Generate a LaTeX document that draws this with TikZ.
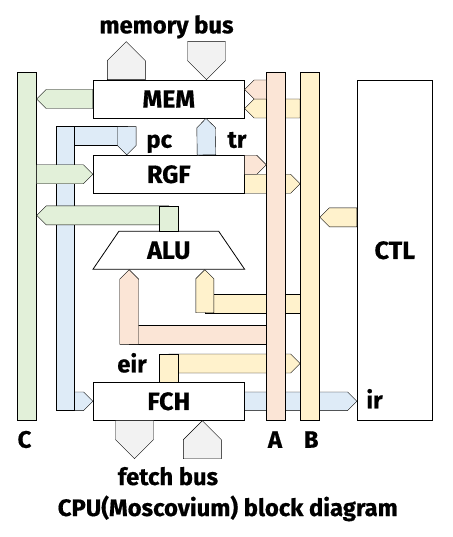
\documentclass[tikz,border=0pt]{standalone}
\usepackage{fontspec}
\setmainfont{Fira Sans}[BoldFeatures={FakeBold=0.6}]
\usetikzlibrary{shapes.geometric, calc}

\definecolor{cgreen}{HTML}{E2F0D9}
\definecolor{cpink}{HTML}{FBE5D6}
\definecolor{cyellow}{HTML}{FFF2CC}
\definecolor{cblue}{HTML}{DEEBF7}
\definecolor{cgray}{HTML}{F2F2F2}

\pgfdeclarelayer{back}
\pgfsetlayers{back,main}

% fat bus arrow: [half width]{style}{start}{tip}
\newcommand{\fatarrow}[4][9.5pt]{%
  \coordinate (fa s) at #3;
  \coordinate (fa t) at #4;
  \coordinate (fa h) at ($(fa t)!#1!(fa s)$);
  \draw[#2] ($(fa s)!#1!90:(fa t)$) -- ($(fa h)!#1!-90:(fa s)$) -- (fa t)
    -- ($(fa h)!#1!90:(fa s)$) -- ($(fa s)!#1!-90:(fa t)$) -- cycle;
}

\begin{document}
\begin{tikzpicture}[x=1pt, y=-1pt, line width=0.8pt, font=\bfseries\fontsize{23.8}{26}\selectfont]
    \tikzstyle{block} = [rectangle, draw, fill=white, minimum width=151pt, minimum height=38pt, inner sep=0pt, font=\bfseries\fontsize{25}{27}\selectfont]
    \tikzstyle{alu} = [trapezium, draw, fill=white, trapezium angle=57.7, trapezium stretches=true, minimum width=152pt, minimum height=38pt, inner sep=0pt, font=\bfseries\fontsize{25}{27}\selectfont]
    \tikzstyle{bus} = [rectangle, draw, minimum width=19pt, minimum height=347.7pt, inner sep=0pt]
    \tikzstyle{tag} = [anchor=base, inner sep=0pt]
    \tikzstyle{cbus} = [draw, fill=cgreen]
    \tikzstyle{abus} = [draw, fill=cpink]
    \tikzstyle{bbus} = [draw, fill=cyellow]
    \tikzstyle{pbus} = [draw, fill=cblue]
    \tikzstyle{ext} = [draw, fill=cgray]

    \useasboundingbox (0,0) rectangle (452,537);

    \node (MEM) [block] at (168.8,99) {MEM};
    \node (RGF) [block, below of=MEM, node distance=75.3pt] {RGF};
    \node (ALU) [alu, below of=RGF, node distance=76pt] {ALU};
    \node (FCH) [block, below of=ALU, node distance=151pt] {FCH};
    \node (CTL) [block, minimum width=75pt, minimum height=340pt, right of=ALU, node distance=226pt] {CTL};

    \node (C) [bus, fill=cgreen] at (26.8,246.2) {};
    \node (A) [bus, fill=cpink, right of=C, node distance=249.4pt] {};
    \node (B) [bus, fill=cyellow, right of=A, node distance=33.8pt] {};

    % behind the buses
    \begin{pgfonlayer}{back}
    % pc
    \coordinate (pc bend) at (64.85,136);
    \coordinate (pc tip) at ($(RGF.north)+(-42,0)$);
    \fatarrow[9.3pt]{pbus}{(pc bend |- FCH.west)}{(FCH.west)};
    \draw[pbus] ($(pc bend)+(0,-9.3)$) rectangle ($(pc bend -| pc tip)+(0,9.3)$);
    \draw[pbus] ($(pc bend)+(-9.15,-9.3)$) rectangle ($(pc bend |- FCH.west)+(9.15,9.3)$);
    \fatarrow[9.3pt]{pbus}{($(pc bend -| pc tip)+(0,-9.3)$)}{(pc tip)};
    % B bus
    \fatarrow{bbus}{($(MEM.east -| B.west)+(0,9.5)$)}{($(MEM.east)+(0,9.5)$)};
    \fatarrow{bbus}{($(RGF.east)+(0,9.5)$)}{($(RGF.east -| B.west)+(0,9.5)$)};
    \coordinate (alu b) at ($(ALU.south)+(36,0)$);
    \coordinate (b bend) at ($(alu b)+(0,33.5)$);
    \draw[bbus] ($(b bend)+(0,-9.5)$) rectangle ($(b bend -| B.west)+(0,9.5)$);
    \fatarrow[9pt]{bbus}{($(b bend)+(0,9.5)$)}{(alu b)};
    % eir
    \coordinate (eir bend) at ($(FCH.north)+(0,-18.4)$);
    \fatarrow{bbus}{(eir bend)}{(eir bend -| B.west)};
    \draw[bbus] ($(eir bend)+(-9.3,-9.5)$) rectangle ($(FCH.north)+(9.3,0)$);
    % ir
    \fatarrow[9.3pt]{pbus}{(FCH.east)}{(FCH.east -| CTL.west)};
    \end{pgfonlayer}

    % C bus
    \fatarrow{cbus}{(MEM.west)}{(MEM.west -| C.east)};
    \fatarrow{cbus}{(RGF.west -| C.east)}{(RGF.west)};
    \coordinate (c bend) at ($(ALU.north)+(0,-15.5)$);
    \fatarrow{cbus}{(c bend)}{(c bend -| C.east)};
    \draw[cbus] ($(c bend)+(-9.3,-9.5)$) rectangle ($(ALU.north)+(9.3,0)$);

    % CTL to B
    \fatarrow{bbus}{($(CTL.west)+(0,-33)$)}{($(CTL.west -| B.east)+(0,-33)$)};

    % A bus
    \fatarrow{abus}{($(MEM.east -| A.west)+(0,-9.5)$)}{($(MEM.east)+(0,-9.5)$)};
    \fatarrow{abus}{($(RGF.east)+(0,-9.5)$)}{($(RGF.east -| A.west)+(0,-9.5)$)};
    \coordinate (alu a) at ($(ALU.south)+(-39.6,0)$);
    \coordinate (a bend) at ($(alu a)+(0,65.3)$);
    \draw[abus] ($(a bend)+(0,-9.35)$) rectangle ($(a bend -| A.west)+(0,9.35)$);
    \fatarrow{abus}{($(a bend)+(0,9.35)$)}{(alu a)};

    % tr
    \fatarrow[9.3pt]{pbus}{($(RGF.north)+(37.7,0)$)}{($(MEM.south)+(37.2,0)$)};

    % memory bus and fetch bus
    \fatarrow[19pt]{ext}{($(MEM.north)+(-42.5,0)$)}{($(MEM.north)+(-42.5,-38)$)};
    \fatarrow[19pt]{ext}{($(MEM.north)+(37.7,-38)$)}{($(MEM.north)+(37.7,0)$)};
    \fatarrow[19pt]{ext}{($(FCH.south)+(-34.3,0)$)}{($(FCH.south)+(-34.3,38)$)};
    \fatarrow[19pt]{ext}{($(FCH.south)+(33.5,38)$)}{($(FCH.south)+(33.5,0)$)};

    % labels
    \node (membus) [tag] at (166.5,33.3) {memory bus};
    \node (pc) [tag] at (159.2,147.7) {pc};
    \node (tr) [tag] at (237,147.7) {tr};
    \node (eir) [tag] at (132,372.3) {eir};
    \node (ir) [tag] at (374.5,408.3) {ir};
    \node (Ctag) [tag] at ($(C.south)+(-2.3,27.3)$) {C};
    \node (Atag) [tag] at ($(A.south)+(-1.2,27.3)$) {A};
    \node (Btag) [tag] at ($(B.south)+(1.2,27.3)$) {B};
    \node (fetchbus) [tag] at (168,485) {fetch bus};
    \node (title) [tag] at (227.8,516) {CPU(Moscovium) block diagram};
\end{tikzpicture}
\end{document}
